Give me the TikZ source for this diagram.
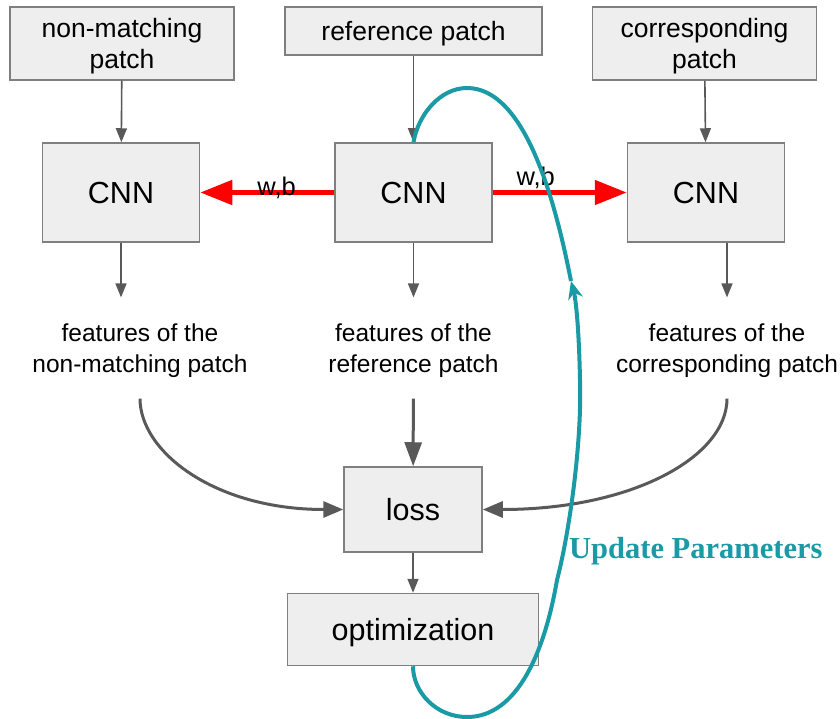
\documentclass[tikz,border=0pt]{standalone}
\usepackage{fontspec}
\setmainfont{Liberation Sans}
\newfontfamily\updfont{Liberation Serif}
\usetikzlibrary{arrows.meta,positioning,calc}
\definecolor{boxfill}{HTML}{EEEEEE}
\definecolor{boxline}{HTML}{7F7F7F}
\definecolor{arrgrey}{HTML}{595959}
\definecolor{updteal}{HTML}{1A9AA5}
\definecolor{wbred}{HTML}{FF0000}
\tikzset{
  box/.style={draw=boxline,line width=1.5pt,fill=boxfill,inner sep=0pt,align=center,
              text depth=0pt},
  inbox/.style={box,minimum width=224pt,minimum height=73pt,text depth=-2.4pt,
                font=\fontsize{26.5}{31}\selectfont},
  netbox/.style={box,minimum width=157pt,minimum height=99pt,
                 font=\fontsize{30.5}{34}\selectfont},
  featlbl/.style={align=center,inner xsep=22pt,inner ysep=26pt,text depth=-3pt,
                  font=\fontsize{24.5}{31}\selectfont},
  thinarr/.style={line width=1.6pt,draw=arrgrey,-{Triangle[length=14pt,width=11pt]}},
  thickarr/.style={line width=3pt,draw=arrgrey,-{Triangle[length=24pt,width=17pt]}},
  bendarr/.style={line width=3pt,draw=arrgrey,-{Triangle[length=20pt,width=16pt]}},
  share/.style={line width=5pt,draw=wbred,-{Triangle[length=32pt,width=24pt]}},
  wblbl/.style={font=\fontsize{25.5}{30}\selectfont,inner sep=0pt},
  updline/.style={line width=4pt,draw=updteal,-{Stealth[length=18pt,width=15pt]}},
  updlbl/.style={font=\updfont\bfseries\fontsize{30.5}{34}\selectfont,text=updteal,inner sep=0pt},
}

\begin{document}
\begin{tikzpicture}[x=1pt,y=-1pt]
  \useasboundingbox (0,0) rectangle (840,719);

  % input patches
  \node[inbox,minimum width=257pt,minimum height=48pt] (refpatch) at (413.5,31) {reference patch};
  \node[inbox] (nonmatch) at (122,43.5) {non-matching\\patch};
  \node[inbox] (corrpatch) at (704.5,43.5) {corresponding\\patch};

  % the three networks
  \node[netbox] (cnnm) at (413.5,192.5) {CNN};
  \node[netbox,left=134pt of cnnm] (cnnl) {CNN};
  \node[netbox,right=134pt of cnnm] (cnnr) {CNN};

  \node[featlbl] (featl) at (140,348) {features of the\\non-matching patch};
  \node[featlbl] (featm) at (413.5,348) {features of the\\reference patch};
  \node[featlbl] (featr) at (727,348) {features of the\\corresponding patch};

  \node[box,minimum width=138pt,minimum height=85pt,font=\fontsize{30.5}{34}\selectfont]
    (loss) at (413,509.5) {loss};
  \node[box,minimum width=251pt,minimum height=72pt,font=\fontsize{30.5}{34}\selectfont,
    below=40pt of loss] (optim) {optimization};

  \draw[thinarr] (nonmatch) -- (cnnl);
  \draw[thinarr] (refpatch) -- (cnnm);
  \draw[thinarr] (corrpatch) -- (cnnr);

  % shared weights
  \draw[share] (cnnm.west) -- node[wblbl,pos=0.43,yshift=5pt]{w,b} (cnnl.east);
  \draw[share] (cnnm.east) -- node[wblbl,pos=0.32,yshift=15pt]{w,b} (cnnr.west);

  \draw[thinarr] (cnnl.south) -- (cnnl.south |- featl.north);
  \draw[thinarr] (cnnm) -- (featm);
  \draw[thinarr] (featr.north |- cnnr.south) -- (featr.north);

  \draw[thickarr] (featm) -- (loss);
  \draw[bendarr] (featl.south) .. controls +(0,53) and +(-129,0) .. (loss.west);
  \draw[bendarr] (featr.south) .. controls +(0,58) and +(150,0) .. (loss.east);
  \draw[thinarr] (loss) -- (optim);

  % feedback loop back to the reference network
  \coordinate (turn) at (571,281);
  \draw[updline] (optim.south) .. controls (413,692) and (436,717) .. (467,717)
    .. controls (518,717) and (545,650) .. (557,580)
    .. controls (570,530) and (582,440) .. (580,380)
    .. controls (579,330) and (576,300) .. (turn);
  \draw[updline,-] (turn) .. controls (555,200) and (525,88) .. (467,88)
    .. controls (440,88) and (418,115) .. (cnnm.north);
  \node[updlbl,anchor=base west] (updtxt) at (569,558) {Update Parameters};
\end{tikzpicture}
\end{document}
